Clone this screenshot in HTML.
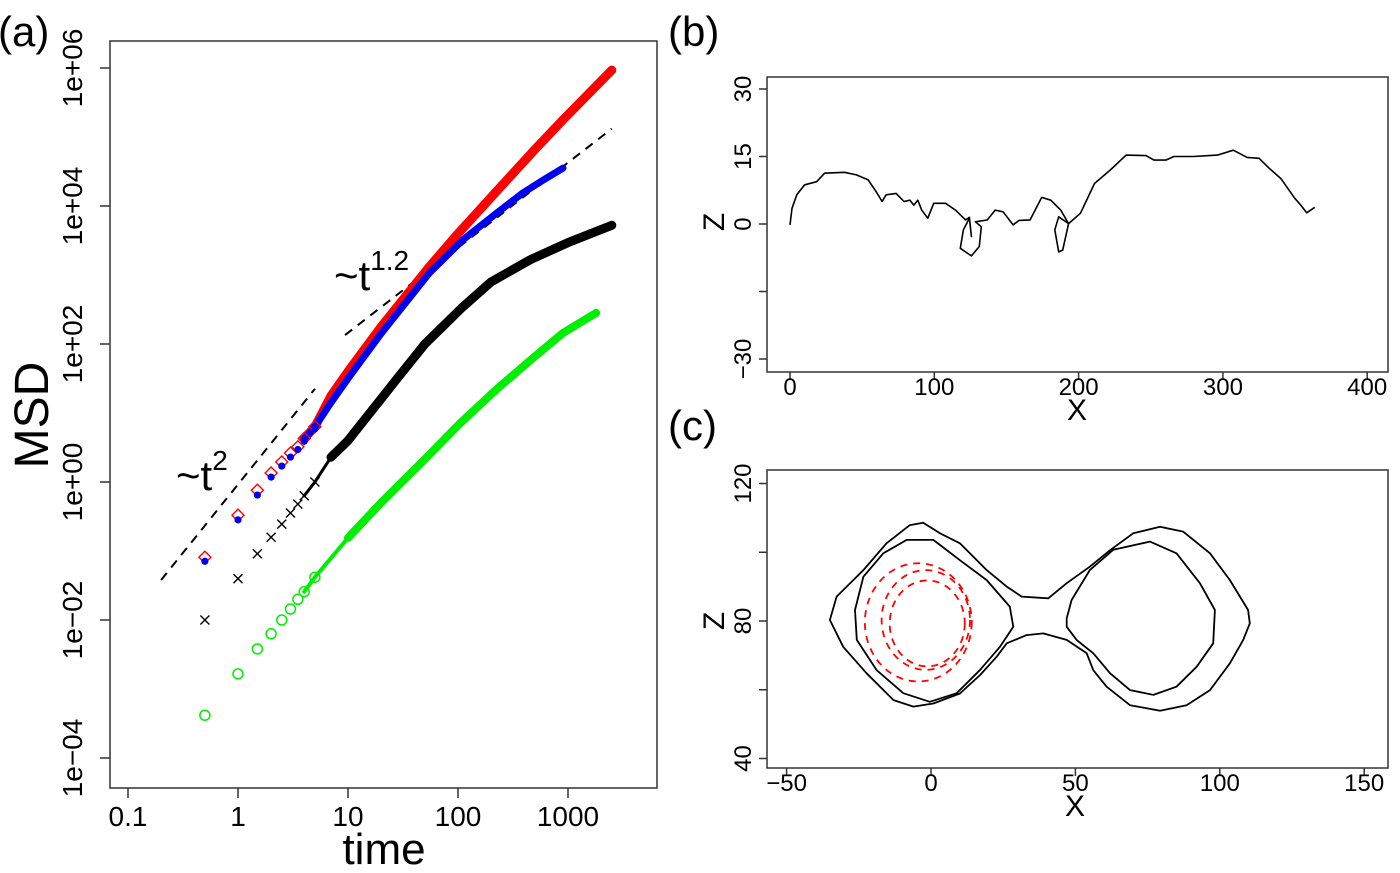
<!DOCTYPE html>
<html><head><meta charset="utf-8"><style>
html,body{margin:0;padding:0;background:#fff;}
svg{display:block;font-family:"Liberation Sans",sans-serif;}
</style></head><body>
<svg id="fig" width="1400" height="873" viewBox="0 0 1400 873" xmlns="http://www.w3.org/2000/svg">
<rect width="1400" height="873" fill="#fff"/>
<g id="pa"></g>
<g id="pb"></g>
<g id="pc"></g>
</svg>
<script>
// ---- Panel (a) data: time and log10(MSD) ----
const redT   = [0.5,1,1.5,2,2.5,3,3.5,4,5,7,10,20,55,100,226,500,900,2500];
const redLog = [-1.09,-0.48,-0.12,0.13,0.29,0.42,0.51,0.63,0.8,1.25,1.6,2.25,3.12,3.6,4.22,4.82,5.25,5.97];
const blueT   = [0.5,1,1.5,2,2.5,3,3.5,4,5,7,10,20,55,111,226,389,600,900];
const blueLog = [-1.12,-0.52,-0.16,0.1,0.26,0.39,0.5,0.62,0.8,1.15,1.5,2.15,3.03,3.51,3.9,4.19,4.38,4.55];
const blackT   = [0.5,1,1.5,2,2.5,3,3.5,4,5,7,10,28,50,111,200,452,1000,2500];
const blackLog = [-2.0,-1.4,-1.04,-0.8,-0.61,-0.45,-0.32,-0.2,0.0,0.36,0.6,1.5,2.0,2.54,2.9,3.22,3.47,3.72];
const greenT   = [0.5,1,1.5,2,2.5,3,3.5,4,5,10,20,52,104,226,500,900,1800];
const greenLog = [-3.38,-2.78,-2.42,-2.2,-2.0,-1.84,-1.7,-1.59,-1.38,-0.81,-0.3,0.36,0.85,1.35,1.82,2.16,2.45];
const xTicksA = [0.1,1,10,100,1000];
const xTickLabelsA = ["0.1","1","10","100","1000"];
const yTicksA = [-4,-2,0,2,4,6];
const yTickLabelsA = ["1e\u221204","1e\u221202","1e+00","1e+02","1e+04","1e+06"];
const guide2T = [0.2,5], guide2Log = [-1.42,1.35];
const guide12T = [9.4,2500], guide12Log = [2.13,5.12];

// ---- Panel (b) data ----
const bX = [0,1.4,4.7,10.2,18.5,24.0,37.7,46.0,54.2,59.7,63.8,66.6,73.5,79.0,83.1,85.8,88.6,91.3,95.5,99.6,107.8,114.7,121.6,124.3,125.7,124.3,120.2,118.0,125.7,131.2,132.6,128.5,136.7,142.2,147.7,154.6,158.7,166.4,174.4,180.7,187.6,193.1,189.0,186.2,183.5,186.2,193.1,201.3,211.0,222.0,233.0,246.7,252.2,260.5,266.0,279.7,296.2,307.2,316.8,325.1,332.0,340.2,349.8,354.0,358.1,363.6];
const bZ = [-0.2,3.5,6.5,8.7,9.4,11.3,11.5,10.9,9.8,7.2,5.0,6.5,6.8,5.0,5.3,4.2,5.3,3.1,1.3,4.6,4.6,3.1,0.9,1.5,-2.8,1.3,-1.3,-5.4,-7.1,-5.0,-0.6,0.5,0.9,3.1,2.7,-0.2,0.8,0.9,5.9,5.3,3.1,0.1,-5.8,-6.2,-1.3,1.6,0.1,2.4,9.0,12.0,15.3,15.2,14.2,14.2,15.0,15.0,15.3,16.4,14.8,14.6,12.4,10.1,5.7,4.2,2.5,3.7];
const bXTicks = [0,100,200,300,400];
const bZTicks = [-30,-15,0,15,30];
const bZTickLabels = ["\u221230","","0","15","30"];

// ---- Panel (c) data ----
const c1X = [40.6,47.0,55.0,62.0,70.0,79.3,87.3,96.6,103.5,109.8,110.4,108.1,103.5,96.6,88.5,79.3,68.9,60.8,56.2,53.9,47.0,38.9,33.1,26.2,22.7,17.0,10.0,0.8,-6.1,-13.0,-22.3,-30.4,-35.0,-32.7,-23.4,-15.4,-7.3,-2.7,3.1,10.0,19.3,26.2,31.4,40.6];
const c1Z = [86.6,91.0,95.8,100.6,105.5,107.4,106.0,99.7,91.9,83.2,79.3,74.5,67.7,59.9,55.5,53.9,55.5,60.9,65.7,70.6,74.5,76.4,75.9,73.5,69.6,64.3,58.9,56.0,55.1,57.0,64.8,72.5,80.3,87.1,94.8,102.6,107.9,108.6,105.5,102.6,94.8,90.0,87.1,86.6];
const c2LX = [28.5,27.3,19.3,10.0,0.8,-8.4,-16.5,-23.4,-26.3,-25.7,-18.8,-9.6,-0.4,8.9,16.9,23.9,28.5];
const c2LZ = [78.3,84.2,91.9,97.7,103.6,103.6,99.7,92.9,83.2,74.5,65.7,59.0,56.5,59.0,65.7,72.5,78.3];
const c2RX = [47.0,48.7,55.0,63.1,75.8,85.0,93.1,98.3,97.7,92.0,85.0,77.0,68.9,62.0,56.2,50.4,47.0,47.0];
const c2RZ = [80.8,86.1,94.8,100.7,103.1,99.7,91.0,83.2,73.5,66.7,60.9,58.5,59.9,64.8,70.6,74.5,78.3,80.8];
const ringCX = [-4.4,-1.8,-1.3];
const ringCZ = [79.6,80.3,79.3];
const ringRX = [18.5,15.3,13.0];
const ringRZ = [17.2,14.5,12.5];
const cXTicks = [-50,0,50,100,150];
const cZTicks = [40,60,80,100,120];
const cZTickLabels = ["40","","80","","120"];

const NS = "http://www.w3.org/2000/svg";
function mk(parent, tag, attrs, text){
  const e = document.createElementNS(NS, tag);
  for (const k in attrs) e.setAttribute(k, attrs[k]);
  if (text !== undefined) e.textContent = text;
  parent.appendChild(e);
  return e;
}

// ===== Panel A =====
const pa = document.getElementById('pa');
const ax = t => 238 + 110*Math.log10(t);
const ay = l => 482 - 69*l;
let r = mk(pa,'rect',{x:110,y:41,width:547,height:747,fill:'none',stroke:'#333','stroke-width':1.5});
 
xTicksA.forEach((t,i)=>{
  const x = ax(t);
  let l = mk(pa,'line',{x1:x,x2:x,y1:788,y2:798,stroke:'#333','stroke-width':1.5});
   
  let tx = mk(pa,'text',{x:x,y:826,'font-size':28,'text-anchor':'middle'},xTickLabelsA[i]);
   
});
yTicksA.forEach((v,i)=>{
  const y = ay(v);
  let l = mk(pa,'line',{x1:100,x2:110,y1:y,y2:y,stroke:'#333','stroke-width':1.5});
   
  let tx = mk(pa,'text',{x:82,y:y,'font-size':28,'text-anchor':'middle',transform:`rotate(-90 82 ${y})`},yTickLabelsA[i]);
   
});
let t1 = mk(pa,'text',{x:384,y:864,'font-size':44,'text-anchor':'middle'},'time');
 
let t2 = mk(pa,'text',{x:48,y:415,'font-size':48,'text-anchor':'middle',transform:'rotate(-90 48 415)'},'MSD');
 
let t3 = mk(pa,'text',{x:-2,y:46,'font-size':42},'(a)');
 

let g1 = mk(pa,'line',{x1:ax(guide2T[0]),y1:ay(guide2Log[0]),x2:ax(guide2T[1]),y2:ay(guide2Log[1]),stroke:'#000','stroke-width':2,'stroke-dasharray':'9,7'});
 
let g2 = mk(pa,'line',{x1:ax(guide12T[0]),y1:ay(guide12Log[0]),x2:ax(guide12T[1]),y2:ay(guide12Log[1]),stroke:'#000','stroke-width':2,'stroke-dasharray':'9,7'});
 
let a1 = mk(pa,'text',{x:176,y:490,'font-size':42},'~t');
 
mk(a1,'tspan',{dy:-20,'font-size':28},'2');
let a2 = mk(pa,'text',{x:334,y:290,'font-size':42},'~t');
 
mk(a2,'tspan',{dy:-20,'font-size':28},'1.2');

function seriesLine(T,L,color,w,name,tStart){
  let d='';
  T.forEach((t,i)=>{ if(t>=tStart) d += (d?'L':'M')+ax(t).toFixed(1)+','+ay(L[i]).toFixed(1); });
  let p = mk(pa,'path',{d:d,fill:'none',stroke:color,'stroke-width':w,'stroke-linecap':'round','stroke-linejoin':'round'});
   
}
seriesLine(greenT,greenLog,'#00ee00',4,'series-green-thin','4');
seriesLine(greenT.filter(t=>t>=10),greenLog.filter((v,i)=>greenT[i]>=10),'#00ee00',8,'series-green-line',10);
seriesLine(blackT,blackLog,'#000',3,'series-black-thin',4);
seriesLine(blackT.filter(t=>t>=7),blackLog.filter((v,i)=>blackT[i]>=7),'#000',9,'series-black-line',7);
seriesLine(redT,redLog,'#ff0000',9,'series-red-line',4);
seriesLine(blueT,blueLog,'#0000ee',7,'series-blue-line',4);

greenT.forEach((t,i)=>{ if(t>5) return;
  let c = mk(pa,'circle',{cx:ax(t),cy:ay(greenLog[i]),r:5,fill:'none',stroke:'#00ee00','stroke-width':1.5});
   
});
blackT.forEach((t,i)=>{ if(t>5) return;
  const x=ax(t), y=ay(blackLog[i]), s=4.5;
  let p = mk(pa,'path',{d:`M${x-s},${y-s}L${x+s},${y+s}M${x-s},${y+s}L${x+s},${y-s}`,stroke:'#000','stroke-width':1.4});
   
});
redT.forEach((t,i)=>{ if(t>5) return;
  const x=ax(t), y=ay(redLog[i]), s=6;
  let p = mk(pa,'path',{d:`M${x},${y-s}L${x+s},${y}L${x},${y+s}L${x-s},${y}Z`,fill:'none',stroke:'#ff0000','stroke-width':1.4});
   
});
blueT.forEach((t,i)=>{ if(t>5) return;
  let c = mk(pa,'circle',{cx:ax(t),cy:ay(blueLog[i])+2,r:3.6,fill:'#0000ee'});
   
});

// ===== Panel B =====
const pb = document.getElementById('pb');
const bx = v => 790 + 1.443*v;
const by = v => 224 - 4.5*v;
let rb = mk(pb,'rect',{x:767,y:77,width:621,height:295,fill:'none',stroke:'#333','stroke-width':1.5});
 
bXTicks.forEach(v=>{
  const x=bx(v);
  let l = mk(pb,'line',{x1:x,x2:x,y1:372,y2:380,stroke:'#333','stroke-width':1.5});
   
  let tx = mk(pb,'text',{x:x,y:395,'font-size':24,'text-anchor':'middle'},String(v));
   
});
bZTicks.forEach((v,i)=>{
  const y=by(v);
  let l = mk(pb,'line',{x1:759,x2:767,y1:y,y2:y,stroke:'#333','stroke-width':1.5});
   
  let tx = mk(pb,'text',{x:751,y:y,'font-size':24,'text-anchor':'middle',transform:`rotate(-90 751 ${y})`},bZTickLabels[i]);
   
});
let bl = mk(pb,'text',{x:668,y:46,'font-size':42},'(b)');
 
let bxt = mk(pb,'text',{x:1077,y:420,'font-size':30,'text-anchor':'middle'},'X');
 
let bzt = mk(pb,'text',{x:724,y:222,'font-size':30,'text-anchor':'middle',transform:'rotate(-90 724 222)'},'Z');
 
let bd = bX.map((v,i)=>(i?'L':'M')+bx(v).toFixed(1)+','+by(bZ[i]).toFixed(1)).join('');
let bp = mk(pb,'path',{d:bd,fill:'none',stroke:'#000','stroke-width':1.6,'stroke-linejoin':'round'});
 

// ===== Panel C =====
const pc = document.getElementById('pc');
const cx = v => 931 + 2.888*v;
const cy = v => 621 - 3.4375*(v-80);
let rc = mk(pc,'rect',{x:767,y:470,width:621,height:298,fill:'none',stroke:'#333','stroke-width':1.5});
 
cXTicks.forEach(v=>{
  const x=cx(v);
  let l = mk(pc,'line',{x1:x,x2:x,y1:768,y2:776,stroke:'#333','stroke-width':1.5});
   
  let tx = mk(pc,'text',{x:x,y:791,'font-size':24,'text-anchor':'middle'},v<0?'\u2212'+Math.abs(v):String(v));
   
});
cZTicks.forEach((v,i)=>{
  const y=cy(v);
  let l = mk(pc,'line',{x1:759,x2:767,y1:y,y2:y,stroke:'#333','stroke-width':1.5});
   
  let tx = mk(pc,'text',{x:751,y:y,'font-size':24,'text-anchor':'middle',transform:`rotate(-90 751 ${y})`},cZTickLabels[i]);
   
});
let cl = mk(pc,'text',{x:668,y:440,'font-size':42},'(c)');
 
let cxt = mk(pc,'text',{x:1075,y:816,'font-size':30,'text-anchor':'middle'},'X');
 
let czt = mk(pc,'text',{x:724,y:621,'font-size':30,'text-anchor':'middle',transform:'rotate(-90 724 621)'},'Z');
 
function cpath(X,Z,name){
  let d = X.map((v,i)=>(i?'L':'M')+cx(v).toFixed(1)+','+cy(Z[i]).toFixed(1)).join('')+'Z';
  let p = mk(pc,'path',{d:d,fill:'none',stroke:'#000','stroke-width':1.8,'stroke-linejoin':'round'});
   
}
cpath(c1X,c1Z,'trajectory-c-outer');
cpath(c2LX,c2LZ,'trajectory-c-inner-left');
cpath(c2RX,c2RZ,'trajectory-c-inner-right');
ringCX.forEach((v,i)=>{
  let e = mk(pc,'ellipse',{cx:cx(v),cy:cy(ringCZ[i]),rx:2.888*ringRX[i],ry:3.4375*ringRZ[i],fill:'none',stroke:'#ff0000','stroke-width':1.8,'stroke-dasharray':'7,6'});
   
});
</script>
</body></html>
